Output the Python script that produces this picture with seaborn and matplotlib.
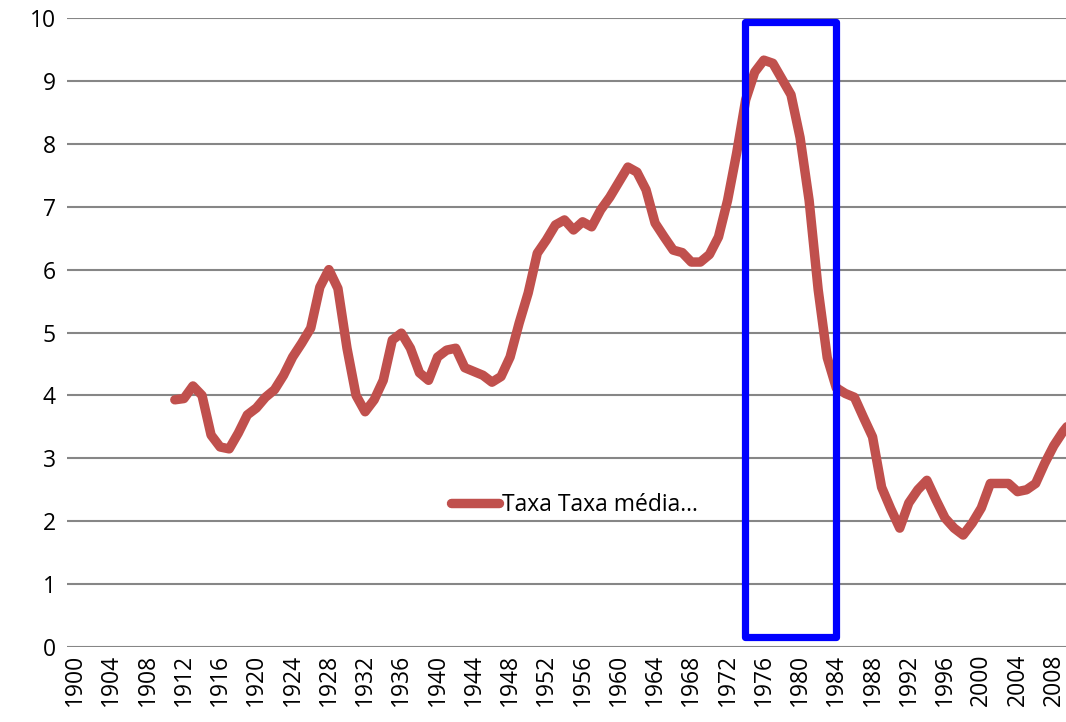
import matplotlib
matplotlib.use("Agg")
import matplotlib.pyplot as plt
import seaborn as sns
import pandas as pd
from matplotlib.patches import Rectangle

years = list(range(1911, 2011))
taxa = [3.93, 3.95, 4.15, 4.0, 3.37, 3.18, 3.15, 3.4, 3.69, 3.8,
        3.97, 4.09, 4.32, 4.61, 4.83, 5.07, 5.72, 6.0, 5.7, 4.75,
        4.0, 3.74, 3.93, 4.24, 4.88, 4.99, 4.75, 4.36, 4.24, 4.61,
        4.72, 4.75, 4.44, 4.38, 4.32, 4.21, 4.3, 4.61, 5.15, 5.63,
        6.26, 6.47, 6.71, 6.79, 6.63, 6.76, 6.68, 6.95, 7.15, 7.39,
        7.63, 7.55, 7.27, 6.74, 6.52, 6.31, 6.27, 6.12, 6.12, 6.24,
        6.52, 7.1, 7.85, 8.7, 9.14, 9.33, 9.28, 9.03, 8.78, 8.1,
        7.1, 5.68, 4.6, 4.12, 4.03, 3.97, 3.65, 3.34, 2.54, 2.2,
        1.89, 2.29, 2.5, 2.65, 2.34, 2.05, 1.89, 1.78, 1.97, 2.21,
        2.6, 2.6, 2.6, 2.47, 2.5, 2.6, 2.92, 3.2, 3.42, 3.6]
tick_years = list(range(1900, 2009, 4))
y_ticks = list(range(0, 11))
series_name = "Taxa Taxa média…"

# highlight box (years / values)
box_x0, box_x1 = 1973.95, 1984.0
box_y0, box_y1 = 0.16, 9.94

df = pd.DataFrame({"Ano": years, "Taxa": taxa})

sns.set_theme(style="white")
plt.rcParams["font.family"] = ["Open Sans", "DejaVu Sans"]
plt.rcParams["text.color"] = "black"

fig = plt.figure(figsize=(10.66, 7.22), dpi=100)
ax = fig.add_axes([67 / 1066, 75 / 722, 999 / 1066, 629 / 722])

sns.lineplot(data=df, x="Ano", y="Taxa", ax=ax, color="#C0504D",
             linewidth=6.8, label=series_name, solid_capstyle="round",
             solid_joinstyle="round", zorder=3)

ax.set_xlim(1899.1, 2009.35)
ax.set_ylim(0, 10)
ax.set_yticks(y_ticks)
ax.set_xticks(tick_years)
ax.set_xticklabels([str(t) for t in tick_years], rotation=90)
ax.tick_params(axis="both", labelsize=16.5, colors="black", length=0, pad=8)
ax.tick_params(axis="x", pad=5)
ax.yaxis.grid(True, color="#868686", linewidth=1.5)
ax.xaxis.grid(False)
for s in ax.spines.values():
    s.set_visible(False)
ax.set_xlabel("")
ax.set_ylabel("")

rect = Rectangle((box_x0, box_y0), box_x1 - box_x0, box_y1 - box_y0,
                 fill=False, edgecolor="#0000FF", linewidth=5.2,
                 joinstyle="round", zorder=4, clip_on=False)
ax.add_patch(rect)

leg = ax.legend(loc="center", bbox_to_anchor=(0.508, 0.226), frameon=False,
                fontsize=16.5, handlelength=2.1, handletextpad=0.15,
                labelcolor="black")

fig.savefig("out.png", dpi=100)
